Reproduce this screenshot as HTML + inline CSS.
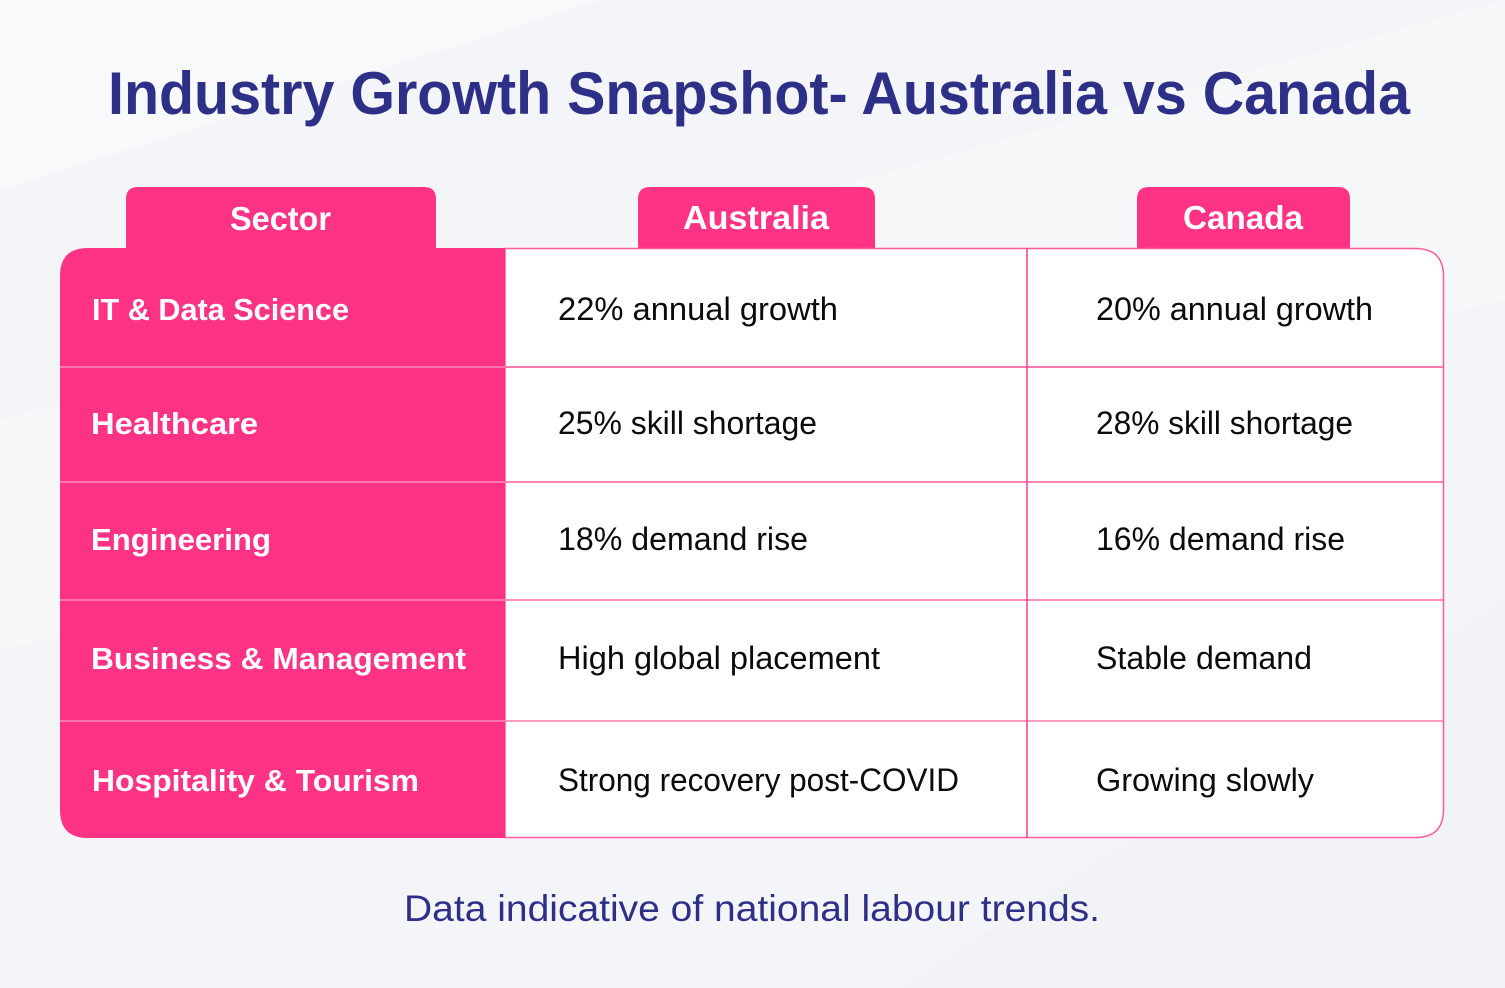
<!DOCTYPE html>
<html><head><meta charset="utf-8"><style>
html,body{margin:0;padding:0;width:1505px;height:988px;overflow:hidden;background:#f5f6f8;}
svg{display:block}
text{font-family:"Liberation Sans",sans-serif;}
</style></head><body>
<svg width="1505" height="988" viewBox="0 0 1505 988" xmlns="http://www.w3.org/2000/svg">
<rect width="1505" height="988" fill="#f4f5f8"/>
<polygon points="0,0 600,0 0,190" fill="#f8f9fb"/>
<polygon points="0,420 1505,0 1505,300 0,650" fill="#f7f8fa" opacity="0.6"/>
<polygon points="1505,600 1505,988 900,988" fill="#f2f3f6"/>
<text x="108" y="114" font-size="60" font-weight="bold" fill="#2e3088" textLength="1302" lengthAdjust="spacingAndGlyphs">Industry Growth Snapshot- Australia vs Canada</text>

<!-- tabs -->
<path d="M126,248 V199 Q126,187 138,187 H424 Q436,187 436,199 V248 Z" fill="#ff3385"/>
<path d="M638,248 V199 Q638,187 650,187 H863 Q875,187 875,199 V248 Z" fill="#ff3385"/>
<path d="M1137,248 V199 Q1137,187 1149,187 H1338 Q1350,187 1350,199 V248 Z" fill="#ff3385"/>
<g font-size="33" font-weight="bold" fill="#ffffff">
<text x="230" y="230" textLength="101" lengthAdjust="spacingAndGlyphs">Sector</text>
<text x="683" y="229" textLength="146" lengthAdjust="spacingAndGlyphs">Australia</text>
<text x="1183" y="229" textLength="120" lengthAdjust="spacingAndGlyphs">Canada</text>
</g>

<!-- white table area -->
<path d="M505,248.5 H1415.5 Q1443.5,248.5 1443.5,276.5 V809.5 Q1443.5,837.5 1415.5,837.5 H505 Z" fill="#ffffff" stroke="#ff5c9d" stroke-width="1.5"/>
<!-- pink column -->
<path d="M505,248 H88 Q60,248 60,276 V810 Q60,838 88,838 H505 Z" fill="#ff3385"/>
<!-- row lines -->
<g stroke-width="1.5">
<line x1="60" y1="367" x2="505" y2="367" stroke="#ff8cba"/>
<line x1="60" y1="482" x2="505" y2="482" stroke="#ff8cba"/>
<line x1="60" y1="600" x2="505" y2="600" stroke="#ff8cba"/>
<line x1="60" y1="721" x2="505" y2="721" stroke="#ff8cba"/>
<line x1="505" y1="367" x2="1443" y2="367" stroke="#ff4d93"/>
<line x1="505" y1="482" x2="1443" y2="482" stroke="#ff5c9d"/>
<line x1="505" y1="600" x2="1443" y2="600" stroke="#ff6aa6"/>
<line x1="505" y1="721" x2="1443" y2="721" stroke="#ff7aaf"/>
<line x1="1027" y1="248" x2="1027" y2="838" stroke="#ff3f8b"/>
</g>

<g font-size="31" font-weight="bold" fill="#ffffff">
<text x="92" y="320" textLength="257" lengthAdjust="spacingAndGlyphs">IT &amp; Data Science</text>
<text x="91" y="434" textLength="167" lengthAdjust="spacingAndGlyphs">Healthcare</text>
<text x="91" y="550" textLength="180" lengthAdjust="spacingAndGlyphs">Engineering</text>
<text x="91" y="669" textLength="375" lengthAdjust="spacingAndGlyphs">Business &amp; Management</text>
<text x="92" y="791" textLength="327" lengthAdjust="spacingAndGlyphs">Hospitality &amp; Tourism</text>
</g>
<g font-size="32" fill="#0b0b0b">
<text x="558" y="320" textLength="280" lengthAdjust="spacingAndGlyphs">22% annual growth</text>
<text x="558" y="434" textLength="259" lengthAdjust="spacingAndGlyphs">25% skill shortage</text>
<text x="558" y="550" textLength="250" lengthAdjust="spacingAndGlyphs">18% demand rise</text>
<text x="558" y="669" textLength="322" lengthAdjust="spacingAndGlyphs">High global placement</text>
<text x="558" y="791" textLength="401" lengthAdjust="spacingAndGlyphs">Strong recovery post-COVID</text>
<text x="1096" y="320" textLength="277" lengthAdjust="spacingAndGlyphs">20% annual growth</text>
<text x="1096" y="434" textLength="257" lengthAdjust="spacingAndGlyphs">28% skill shortage</text>
<text x="1096" y="550" textLength="249" lengthAdjust="spacingAndGlyphs">16% demand rise</text>
<text x="1096" y="669" textLength="216" lengthAdjust="spacingAndGlyphs">Stable demand</text>
<text x="1096" y="791" textLength="218" lengthAdjust="spacingAndGlyphs">Growing slowly</text>
</g>

<text x="404" y="921" font-size="37" fill="#2e3088" textLength="696" lengthAdjust="spacingAndGlyphs">Data indicative of national labour trends.</text>
</svg>
</body></html>
